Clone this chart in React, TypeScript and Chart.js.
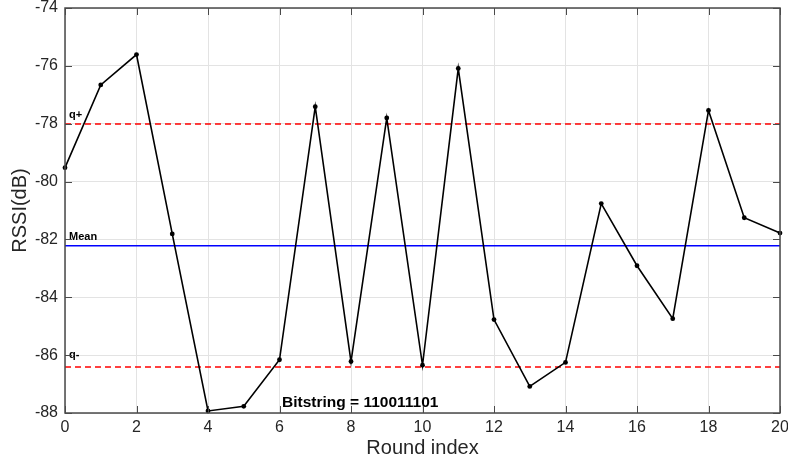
import React, { useEffect, useRef } from "react";
import { Chart, registerables } from "chart.js";

Chart.register(...registerables);

const rounds: number[] = [0, 1, 2, 3, 4, 5, 6, 7, 8, 9, 10, 11, 12, 13, 14, 15, 16, 17, 18, 19, 20];
const rssi: number[] = [
  -79.52, -76.66, -75.61, -81.81, -87.93, -87.77, -86.16, -77.41, -86.22, -77.8, -86.35,
  -76.09, -84.77, -87.08, -86.25, -80.76, -82.91, -84.74, -77.54, -81.25, -81.78,
];
const qPlus = -78.01;
const meanValue = -82.22;
const qMinus = -86.41;
const xTicks: number[] = [0, 2, 4, 6, 8, 10, 12, 14, 16, 18, 20];
const yTicks: number[] = [-88, -86, -84, -82, -80, -78, -76, -74];
const bitstring = "Bitstring = 110011101";
const bitstringPos = { x: 6.07, y: -87.63 };

const FONT = "'Liberation Sans', Arial, Helvetica, sans-serif";
const FRAME = "#4a4a4a";

const framePlugin = {
  id: "matlabFrame",
  afterDatasetsDraw(chart: any) {
    const { ctx, chartArea, scales } = chart;
    const xs = scales.x;
    const ys = scales.y;
    ctx.save();
    // annotations
    ctx.fillStyle = "#000";
    ctx.font = `bold 11px ${FONT}`;
    ctx.textAlign = "left";
    ctx.textBaseline = "alphabetic";
    const x0 = xs.getPixelForValue(0);
    ctx.fillText("q+", x0 + 4, ys.getPixelForValue(qPlus) - 6);
    ctx.fillText("Mean", x0 + 4, ys.getPixelForValue(meanValue) - 6);
    ctx.fillText("q-", x0 + 4, ys.getPixelForValue(qMinus) - 9);
    ctx.font = `bold 15.5px ${FONT}`;
    ctx.fillText(bitstring, xs.getPixelForValue(bitstringPos.x), ys.getPixelForValue(bitstringPos.y) + 5);

    // frame
    ctx.strokeStyle = FRAME;
    ctx.lineWidth = 1.5;
    ctx.strokeRect(chartArea.left, chartArea.top, chartArea.right - chartArea.left, chartArea.bottom - chartArea.top);
    // inward ticks
    ctx.lineWidth = 1;
    const tl = 7;
    ctx.beginPath();
    for (const v of xTicks) {
      const px = Math.round(xs.getPixelForValue(v)) + 0.5;
      ctx.moveTo(px, chartArea.bottom);
      ctx.lineTo(px, chartArea.bottom - tl);
      ctx.moveTo(px, chartArea.top);
      ctx.lineTo(px, chartArea.top + tl);
    }
    for (const v of yTicks) {
      const py = Math.round(ys.getPixelForValue(v)) + 0.5;
      ctx.moveTo(chartArea.left, py);
      ctx.lineTo(chartArea.left + tl, py);
      ctx.moveTo(chartArea.right, py);
      ctx.lineTo(chartArea.right - tl, py);
    }
    ctx.stroke();
    ctx.restore();
  },
};

function zeroPad(scale: any) {
  scale.paddingLeft = 0;
  scale.paddingRight = 0;
  scale.paddingTop = 0;
  scale.paddingBottom = 0;
}

export default function App() {
  const ref = useRef<HTMLCanvasElement>(null);

  useEffect(() => {
    if (!ref.current) return;
    const hline = (v: number) => [
      { x: rounds[0], y: v },
      { x: rounds[rounds.length - 1], y: v },
    ];
    const chart = new Chart(ref.current, {
      type: "line",
      data: {
        datasets: [
          {
            label: "RSSI",
            data: rounds.map((r, i) => ({ x: r, y: rssi[i] })),
            borderColor: "#000000",
            backgroundColor: "#000000",
            borderWidth: 1.6,
            pointRadius: 2.4,
            pointBackgroundColor: "#000000",
            pointBorderWidth: 0,
            tension: 0,
            clip: false,
          },
          {
            label: "q+",
            data: hline(qPlus),
            borderColor: "#ff0000",
            borderWidth: 1.6,
            borderDash: [6, 4],
            pointRadius: 0,
          },
          {
            label: "Mean",
            data: hline(meanValue),
            borderColor: "#0000ff",
            borderWidth: 1.6,
            pointRadius: 0,
          },
          {
            label: "q-",
            data: hline(qMinus),
            borderColor: "#ff0000",
            borderWidth: 1.6,
            borderDash: [6, 4],
            pointRadius: 0,
          },
        ],
      },
      options: {
        responsive: false,
        animation: false,
        events: [],
        layout: { padding: { top: 8, right: 8, left: 0, bottom: 0 } },
        plugins: { legend: { display: false }, tooltip: { enabled: false } },
        scales: {
          x: {
            type: "linear",
            min: 0,
            max: 20,
            afterBuildTicks: (s: any) => {
              s.ticks = xTicks.map((v) => ({ value: v }));
            },
            afterFit: (s: any) => {
              s.height = 46;
              zeroPad(s);
            },
            ticks: {
              font: { family: FONT, size: 16 },
              color: "#262626",
              padding: 5,
              maxRotation: 0,
              autoSkip: false,
            },
            grid: { color: "#e3e3e3", lineWidth: 1, drawTicks: false },
            border: { display: false },
            title: {
              display: true,
              text: "Round index",
              font: { family: FONT, size: 20 },
              color: "#262626",
              padding: { top: 0, bottom: -1 },
            },
          },
          y: {
            type: "linear",
            min: -88,
            max: -74,
            afterBuildTicks: (s: any) => {
              s.ticks = yTicks.map((v) => ({ value: v }));
            },
            afterFit: (s: any) => {
              s.width = 65;
              zeroPad(s);
            },
            ticks: {
              font: { family: FONT, size: 16 },
              color: "#262626",
              padding: 7,
              autoSkip: false,
            },
            grid: { color: "#e3e3e3", lineWidth: 1, drawTicks: false },
            border: { display: false },
            title: {
              display: true,
              text: "RSSI(dB)",
              font: { family: FONT, size: 20 },
              color: "#262626",
              padding: { top: 8, bottom: 0 },
            },
          },
        },
      },
      plugins: [framePlugin],
    } as any);
    return () => chart.destroy();
  }, []);

  return (
    <div style={{ position: "absolute", left: 0, top: 0, width: 788, height: 459, background: "#fff" }}>
      <canvas ref={ref} width={788} height={459} style={{ display: "block", width: 788, height: 459 }} />
    </div>
  );
}
